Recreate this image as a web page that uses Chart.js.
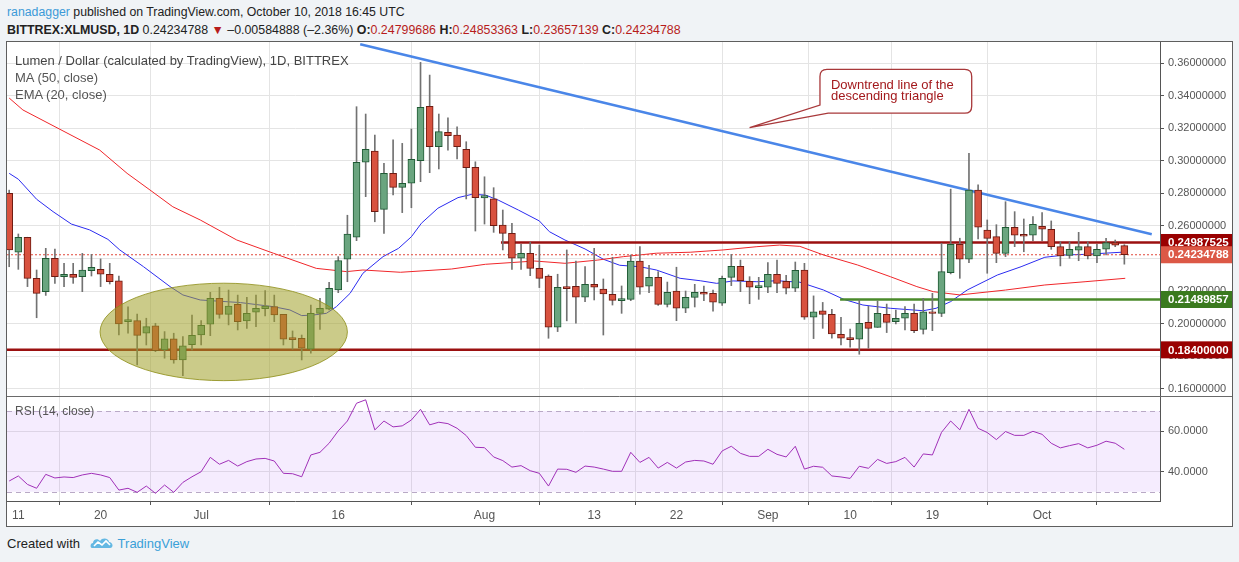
<!DOCTYPE html>
<html>
<head>
<meta charset="utf-8">
<script src="https://cdn.jsdelivr.net/npm/chart.js@4.4.1/dist/chart.umd.min.js"></script>
<style>
  html, body { margin:0; padding:0; background:#f0f3f6; font-family:'Liberation Sans', Arial, sans-serif; }
  #wrap { position:relative; width:1239px; height:562px; overflow:hidden; }
  .hdr { position:absolute; left:7px; font-size:13px; line-height:16px; color:#222; white-space:nowrap; }
  .hdr .r { color:#b71c1c; }
  #frame { position:absolute; left:6px; top:41px; width:1225px; height:484px; border:1px solid #5e5e5e; background:#fff; }
  #frame canvas { position:absolute; left:0; top:0; }
  .lg { position:absolute; left:8px; font-size:13px; line-height:16px; color:#555; white-space:nowrap; }
  #foot { position:absolute; left:7px; top:536px; font-size:13px; line-height:16px; color:#222; }
  #foot .tv { color:#3ba0d8; }
</style>
</head>
<body>
<div id="wrap">
  <div class="hdr" style="top:4px;font-size:12.3px"><span style="color:#3c9ad8">ranadagger</span> published on TradingView.com, October 10, 2018 16:45 UTC</div>
  <div class="hdr" style="top:22px;font-size:12.4px"><b>BITTREX:XLMUSD, 1D</b> 0.24234788 <span class="r">▼</span> –0.00584888 (–2.36%) <b>O:</b><span class="r">0.24799686</span> <b>H:</b><span class="r">0.24853363</span> <b>L:</b><span class="r">0.23657139</span> <b>C:</b><span class="r">0.24234788</span></div>
  <div id="frame">
    <canvas id="c" width="1225" height="484"></canvas>
    <div class="lg" style="top:11px;color:#444">Lumen / Dollar (calculated by TradingView), 1D, BITTREX</div>
    <div class="lg" style="top:28px">MA (50, close)</div>
    <div class="lg" style="top:45px">EMA (20, close)</div>
    <div class="lg" style="top:361px;font-size:12px">RSI (14, close)</div>
  </div>
  <div id="foot">Created with
    <svg width="24" height="14" viewBox="0 0 24 14" style="vertical-align:-2px;margin:0 4px 0 6px">
      <path d="M2 12 C0 12 0 7 3 7 C3 3 8 2 10 5 C12 1 19 2 19 6 C23 6 24 12 20 12 Z" fill="#63b8e3"/>
      <path d="M4 10 L8 6 L12 9 L16 5 L20 9" stroke="#fff" stroke-width="1.6" fill="none"/>
    </svg><span class="tv">TradingView</span></div>
</div>
<script>
// === Daily XLM/USD candles, 10 Jun -> 10 Oct 2018 (index 0 = Jun 10) ===
const opens = [
  0.2801,0.2439,0.2531,0.2279,0.2197,0.2402,0.2289,0.2304,0.2289,0.2326,
  0.2334,0.2304,0.2264,0.2013,0.2019,0.1942,0.1988,0.1839,0.1907,0.1778,
  0.1872,0.1931,0.1997,0.2156,0.2058,0.2120,0.2017,0.2071,0.2093,0.2105,
  0.2058,0.1915,0.1911,0.1844,0.2064,0.2089,0.2207,0.2396,0.2531,0.2991,
  0.3060,0.2702,0.2923,0.2837,0.2862,0.3001,0.3334,0.3087,0.3175,0.3158,
  0.3071,0.2960,0.2773,0.2766,0.2606,0.2555,0.2402,0.2432,0.2340,0.2293,
  0.1979,0.2228,0.2230,0.2163,0.2242,0.2213,0.2181,0.2142,0.2150,0.2385,
  0.2230,0.2285,0.2119,0.2201,0.2095,0.2162,0.2193,0.2187,0.2126,0.2285,
  0.2353,0.2261,0.2222,0.2224,0.2304,0.2261,0.2218,0.2330,0.2040,0.2080,
  0.2058,0.1935,0.1915,0.1905,0.2009,0.1978,0.2058,0.2013,0.2034,0.2064,
  0.1966,0.2074,0.2064,0.2314,0.2488,0.2396,0.2821,0.2575,0.2535,0.2432,
  0.2592,0.2549,0.2543,0.2598,0.2580,0.2473,0.2420,0.2451,0.2473,0.2416,
  0.2457,0.2498,0.24799686
];
const highs = [
  0.2820,0.2551,0.2531,0.2330,0.2463,0.2459,0.2371,0.2371,0.2432,0.2426,
  0.2398,0.2371,0.2293,0.2104,0.2060,0.2034,0.2003,0.1952,0.1942,0.1921,
  0.2054,0.2019,0.2193,0.2224,0.2207,0.2176,0.2162,0.2176,0.2203,0.2176,
  0.2058,0.1956,0.1931,0.2115,0.2156,0.2255,0.2412,0.2666,0.3332,0.3287,
  0.3158,0.2985,0.3128,0.3107,0.3195,0.3604,0.3526,0.3287,0.3264,0.3209,
  0.3117,0.2994,0.2902,0.2835,0.2698,0.2616,0.2488,0.2500,0.2483,0.2300,
  0.2304,0.2453,0.2385,0.2351,0.2463,0.2275,0.2408,0.2232,0.2422,0.2473,
  0.2359,0.2320,0.2256,0.2347,0.2201,0.2242,0.2232,0.2207,0.2293,0.2426,
  0.2391,0.2289,0.2285,0.2375,0.2391,0.2297,0.2379,0.2371,0.2171,0.2131,
  0.2089,0.2039,0.1968,0.2146,0.2107,0.2140,0.2121,0.2084,0.2105,0.2121,
  0.2156,0.2187,0.2494,0.2826,0.2525,0.3046,0.2852,0.2637,0.2608,0.2749,
  0.2688,0.2643,0.2657,0.2682,0.2631,0.2504,0.2504,0.2561,0.2504,0.2488,
  0.2525,0.2514,0.24853363
];
const lows = [
  0.2350,0.2334,0.2228,0.2037,0.2174,0.2248,0.2228,0.2248,0.2197,0.2293,
  0.2228,0.2244,0.1931,0.1942,0.1747,0.1870,0.1829,0.1789,0.1758,0.1682,
  0.1839,0.1870,0.1927,0.2034,0.1993,0.1962,0.1972,0.1982,0.2048,0.2013,
  0.1870,0.1844,0.1778,0.1819,0.1966,0.2085,0.2191,0.2258,0.2510,0.2780,
  0.2626,0.2555,0.2790,0.2682,0.2712,0.2872,0.2927,0.2950,0.3066,0.3011,
  0.2766,0.2569,0.2612,0.2561,0.2453,0.2334,0.2334,0.2295,0.2222,0.1911,
  0.1952,0.2018,0.2003,0.2136,0.2146,0.1931,0.2115,0.2064,0.2142,0.2181,
  0.2191,0.2113,0.2103,0.2019,0.2068,0.2103,0.2142,0.2078,0.2113,0.2234,
  0.2197,0.2123,0.2150,0.2191,0.2191,0.2183,0.2197,0.2027,0.1909,0.1972,
  0.1911,0.1870,0.1856,0.1813,0.1850,0.1978,0.1946,0.1999,0.1962,0.1946,
  0.1937,0.1958,0.2044,0.2306,0.2279,0.2375,0.2520,0.2310,0.2375,0.2412,
  0.2473,0.2442,0.2510,0.2510,0.2457,0.2355,0.2402,0.2387,0.2398,0.2375,
  0.2422,0.2473,0.23657139
];
const closes = [
  0.2453,0.2531,0.2279,0.2187,0.2402,0.2289,0.2304,0.2285,0.2330,0.2347,
  0.2304,0.2258,0.1999,0.2026,0.1929,0.1982,0.1835,0.1907,0.1778,0.1864,
  0.1929,0.1991,0.2156,0.2058,0.2109,0.2013,0.2064,0.2095,0.2109,0.2054,
  0.1905,0.1902,0.1850,0.2064,0.2095,0.2218,0.2387,0.2551,0.2991,0.3071,
  0.2688,0.2923,0.2837,0.2862,0.3009,0.3328,0.3087,0.3179,0.3154,0.3087,
  0.2958,0.2774,0.2786,0.2602,0.2555,0.2402,0.2432,0.2340,0.2279,0.1979,
  0.2224,0.2215,0.2163,0.2242,0.2224,0.2183,0.2144,0.2155,0.2385,0.2224,
  0.2285,0.2119,0.2193,0.2095,0.2162,0.2193,0.2181,0.2132,0.2279,0.2353,
  0.2264,0.2224,0.2235,0.2304,0.2248,0.2218,0.2328,0.2040,0.2074,0.2058,
  0.1937,0.1911,0.1902,0.2003,0.1972,0.2064,0.2009,0.2034,0.2064,0.1958,
  0.2074,0.2064,0.2320,0.2488,0.2396,0.2821,0.2593,0.2524,0.2432,0.2592,
  0.2543,0.2537,0.2610,0.2580,0.2473,0.2416,0.2457,0.2473,0.2416,0.2457,
  0.2498,0.2482,0.24234788
];

// === Indicators (day index, value) ===
const maDay = [0,1.5,9.9,12.9,15.4,17.9,20.9,24.9,28.9,33.6,36.9,38.7,42.8,48.4,52.1,57.5,60.8,64.4,67.2,70.8,
  74.5,78.1,81.8,84.3,86.5,89.1,92.8,96.4,99.3,101.1,104.0,109.0,113.3,117.7,122.1];
const maVal = [0.3385,0.3312,0.3066,0.2923,0.2821,0.2718,0.2637,0.2514,0.2433,0.2340,0.2320,0.2330,0.2316,0.2336,0.2365,0.2385,0.2371,0.2391,0.2412,0.2433,
  0.2439,0.2453,0.2473,0.2483,0.2475,0.2422,0.2361,0.2289,0.2228,0.2197,0.2177,0.2207,0.2238,0.2258,0.2279];
const emaDay = [0,1.0,3.0,4.8,6.8,8.8,10.8,12.1,14.7,17.6,19.0,20.9,25.3,28.9,30.7,32.0,33.3,34.7,35.8,37.3,
  38.7,40.9,42.6,44.0,45.1,46.9,49.1,50.6,52.1,53.5,55.7,58.0,59.1,60.8,63.0,65.0,66.8,69.0,70.8,73.4,
  75.6,77.4,79.2,81.8,84.0,86.5,89.1,91.3,93.4,96.4,100.0,101.4,103.0,104.8,108.1,110.7,113.3,115.5,117.7,121.7];
const emaVal = [0.2923,0.2887,0.2764,0.2688,0.2612,0.2576,0.2518,0.2453,0.2350,0.2228,0.2177,0.2146,0.2130,0.2105,0.2085,0.2050,0.2054,0.2064,0.2105,0.2187,
  0.2310,0.2412,0.2463,0.2534,0.2617,0.2709,0.2774,0.2794,0.2790,0.2759,0.2698,0.2631,0.2565,0.2514,0.2459,0.2396,0.2359,0.2350,0.2330,0.2279,
  0.2264,0.2248,0.2263,0.2258,0.2264,0.2255,0.2207,0.2150,0.2115,0.2095,0.2080,0.2095,0.2136,0.2207,0.2299,0.2350,0.2408,0.2422,0.2426,0.2439];
const rsi = [
  35.3,37.8,33.6,31.7,38.6,36.8,37.3,37.0,38.3,39.1,38.3,37.0,30.8,31.7,29.7,32.8,29.2,33.3,29.7,34.6,37.4,
  39.9,47.0,43.6,45.5,42.7,44.9,46.2,46.5,45.2,39.1,38.9,37.4,48.2,49.5,54.0,60.1,65.0,73.8,75.5,60.6,
  65.0,62.1,62.6,65.5,70.8,63.1,64.4,63.7,61.4,57.8,52.0,51.8,47.2,45.4,42.2,42.9,40.4,39.1,32.8,41.2,41.1,39.6,42.7,
  42.2,41.2,40.1,40.1,49.5,44.5,47.0,41.7,44.5,41.7,44.7,45.5,45.2,43.6,50.2,52.5,49.0,47.5,47.5,51.0,
  48.5,47.2,52.5,41.2,42.6,42.1,37.8,37.3,36.6,42.6,41.6,46.0,44.0,44.9,47.0,42.2,48.7,48.2,59.4,65.0,
  60.6,70.8,61.4,59.3,55.8,59.8,57.9,57.9,59.9,58.4,54.0,51.7,52.8,53.8,51.7,53.0,55.0,54.0,51.0
];

// === Drawn levels and annotations (in day / price units) ===
const trendDay = [38.4, 125.0];
const trendVal = [0.3715, 0.2549];
const resistance = 0.24987525, resistanceFrom = 53.8;
const greenLevel = 0.21489857, greenFrom = 90.9;
const support = 0.184;
const lastClose = 0.24234788;
const rsiBand = [30, 70];

// === Axis ticks ===
const tickDays = [1, 10, 21, 36, 52, 64, 73, 83, 92, 101, 113];
const tickLabels = ['11', '20', 'Jul', '16', 'Aug', '13', '22', 'Sep', '10', '19', 'Oct'];
const priceTicks = [0.16,0.18,0.20,0.22,0.24,0.26,0.28,0.30,0.32,0.34,0.36];
const rsiTicks = [40, 60];

const X_MIN = -0.24, X_MAX = 125.9;
const GREEN = '#6aa57f', GREEN_B = '#1f5a34', RED = '#d8523f', RED_B = '#6e1b12';
const FONT = '"Liberation Sans", Arial, sans-serif';

const up = opens.map((o, i) => closes[i] >= o);
const pts = (xs, ys) => xs.map((x, i) => ({x, y: ys[i]}));
const lineDs = (data, color, width, extra) => Object.assign({
  type: 'line', data, borderColor: color, borderWidth: width, pointRadius: 0,
  fill: false, tension: 0, yAxisID: 'y'
}, extra || {});
// keep the panes exactly where the frame wants them
const noPad = s => { s.paddingTop = 0; s.paddingBottom = 0; s.paddingLeft = 0; s.paddingRight = 0; };

const overlay = {
  id: 'overlay',
  beforeDatasetsDraw(chart) {
    const {ctx, chartArea: a, scales: {yR}} = chart;
    const t = yR.getPixelForValue(rsiBand[1]), b = yR.getPixelForValue(rsiBand[0]);
    ctx.save();
    ctx.fillStyle = 'rgba(175,95,250,0.12)';
    ctx.fillRect(a.left, t, a.right - a.left, b - t);
    ctx.strokeStyle = '#b9a9c6';
    ctx.lineWidth = 1;
    ctx.setLineDash([5, 4]);
    [t, b].forEach(yy => {
      ctx.beginPath(); ctx.moveTo(a.left, Math.round(yy) + 0.5); ctx.lineTo(a.right, Math.round(yy) + 0.5); ctx.stroke();
    });
    ctx.restore();
  },
  afterDatasetsDraw(chart) {
    const {ctx, scales: {x, y}} = chart;
    ctx.save();
    // shaded consolidation ellipse
    const cx = x.getPixelForValue(23.47), cy = y.getPixelForValue(0.195);
    const rx = x.getPixelForValue(23.47 + 13.53) - cx, ry = cy - y.getPixelForValue(0.195 + 0.0299);
    ctx.beginPath();
    ctx.ellipse(cx, cy, rx, ry, 0, 0, Math.PI * 2);
    ctx.fillStyle = 'rgba(160,160,40,0.55)';
    ctx.fill();
    ctx.strokeStyle = 'rgba(140,140,20,0.8)';
    ctx.lineWidth = 1;
    ctx.stroke();

    // callout
    const L = x.getPixelForValue(88.7), R = x.getPixelForValue(105.3);
    const T = y.getPixelForValue(0.3561), B = y.getPixelForValue(0.3292);
    const tx = x.getPixelForValue(81.0), ty = y.getPixelForValue(0.3203);
    const ay = y.getPixelForValue(0.3342), bx = x.getPixelForValue(89.6);
    const r = 7;
    ctx.beginPath();
    ctx.moveTo(tx, ty);
    ctx.lineTo(L, ay);
    ctx.lineTo(L, T + r);
    ctx.quadraticCurveTo(L, T, L + r, T);
    ctx.lineTo(R - r, T);
    ctx.quadraticCurveTo(R, T, R, T + r);
    ctx.lineTo(R, B - r);
    ctx.quadraticCurveTo(R, B, R - r, B);
    ctx.lineTo(bx, B);
    ctx.closePath();
    ctx.fillStyle = '#fff';
    ctx.fill();
    ctx.strokeStyle = '#a8383a';
    ctx.lineWidth = 1.3;
    ctx.stroke();
    ctx.fillStyle = '#a3191c';
    ctx.font = '13px ' + FONT;
    ctx.textBaseline = 'middle';
    ctx.fillText('Downtrend line of the', L + 11, T + 16);
    ctx.fillText('descending triangle', L + 11, T + 27);
    ctx.restore();
  },
  afterDraw(chart) {
    const {ctx, chartArea: a, scales: {y, yR}} = chart;
    ctx.save();
    // panel separator
    ctx.strokeStyle = '#6a6a6a';
    ctx.lineWidth = 1;
    ctx.beginPath();
    ctx.moveTo(a.left, Math.round(yR.top) + 0.5);
    ctx.lineTo(chart.width, Math.round(yR.top) + 0.5);
    ctx.stroke();
    // price labels on the axis
    const tags = [
      [resistance, '#990000'], [lastClose, '#dc5846'], [greenLevel, '#3a7a1e'], [support, '#990000']
    ];
    ctx.font = 'bold 11.5px ' + FONT;
    ctx.textBaseline = 'middle';
    tags.forEach(([v, col]) => {
      const py = y.getPixelForValue(v);
      ctx.fillStyle = col;
      ctx.fillRect(a.right + 1, py - 8.5, chart.width - a.right - 1, 17);
      ctx.fillStyle = '#fff';
      ctx.fillText(v.toFixed(8), a.right + 8, py + 0.5);
    });
    ctx.restore();
  }
};

new Chart(document.getElementById('c'), {
  type: 'bar',
  data: {
    datasets: [
      { // candle bodies
        data: opens.map((o, i) => ({x: i, y: [o, closes[i]]})),
        backgroundColor: up.map(u => u ? GREEN : RED),
        borderColor: up.map(u => u ? GREEN_B : RED_B),
        borderWidth: 1, borderSkipped: false, barThickness: 7, grouped: false,
        yAxisID: 'y', order: 1
      },
      { // wicks
        data: lows.map((l, i) => ({x: i, y: [l, highs[i]]})),
        backgroundColor: '#727272', borderWidth: 0, barThickness: 1, grouped: false,
        yAxisID: 'y', order: 2
      },
      lineDs(pts([X_MIN, X_MAX], [lastClose, lastClose]), '#e0473a', 1, {borderDash: [2, 2], order: 3}),
      lineDs(pts(trendDay, trendVal), '#4a86e8', 2.5, {order: 3}),
      lineDs(pts([resistanceFrom, X_MAX], [resistance, resistance]), '#9b1010', 2.5, {order: 4}),
      lineDs(pts([greenFrom, X_MAX], [greenLevel, greenLevel]), '#4a8a2a', 2.5, {order: 4}),
      lineDs(pts([X_MIN, X_MAX], [support, support]), '#9b1010', 2.5, {order: 4}),
      lineDs(pts(maDay, maVal), '#f0262a', 1, {order: 5}),
      lineDs(pts(emaDay, emaVal), '#2b2bf0', 1, {order: 5}),
      lineDs(rsi.map((v, i) => ({x: i, y: v})), '#a030b8', 1, {yAxisID: 'yR', order: 5})
    ]
  },
  plugins: [overlay],
  options: {
    responsive: false,
    animation: false,
    layout: {padding: 0},
    plugins: {legend: {display: false}, tooltip: {enabled: false}},
    scales: {
      x: {
        type: 'linear', min: X_MIN, max: X_MAX, offset: false,
        afterBuildTicks: s => { s.ticks = tickDays.map(v => ({value: v})); },
        afterFit: s => { s.height = 25; noPad(s); },
        ticks: {autoSkip: false, maxRotation: 0, padding: 3, color: '#555',
          font: {size: 12, family: FONT},
          callback: v => tickLabels[tickDays.indexOf(v)]},
        grid: {color: '#e4e4e4', tickLength: 4, tickColor: '#555'},
        border: {color: '#555'}
      },
      y: {
        position: 'right', stack: 'panes', stackWeight: 3.37,
        min: 0.1557, max: 0.3729,
        afterBuildTicks: s => { s.ticks = priceTicks.map(v => ({value: v})); },
        afterFit: s => { s.width = 72; noPad(s); },
        ticks: {padding: 4, color: '#555', font: {size: 11, family: FONT},
          callback: v => v.toFixed(8)},
        grid: {color: '#e4e4e4', tickLength: 4, tickColor: '#555'},
        border: {color: '#555'}
      },
      yR: {
        position: 'right', stack: 'panes', stackWeight: 1,
        min: 25.4, max: 77.4,
        afterBuildTicks: s => { s.ticks = rsiTicks.map(v => ({value: v})); },
        afterFit: s => { s.width = 72; noPad(s); },
        ticks: {padding: 4, color: '#555', font: {size: 11, family: FONT},
          callback: v => v.toFixed(4)},
        grid: {color: '#e4e4e4', tickLength: 4, tickColor: '#555'},
        border: {color: '#555'}
      }
    }
  }
});
</script>
</body>
</html>
